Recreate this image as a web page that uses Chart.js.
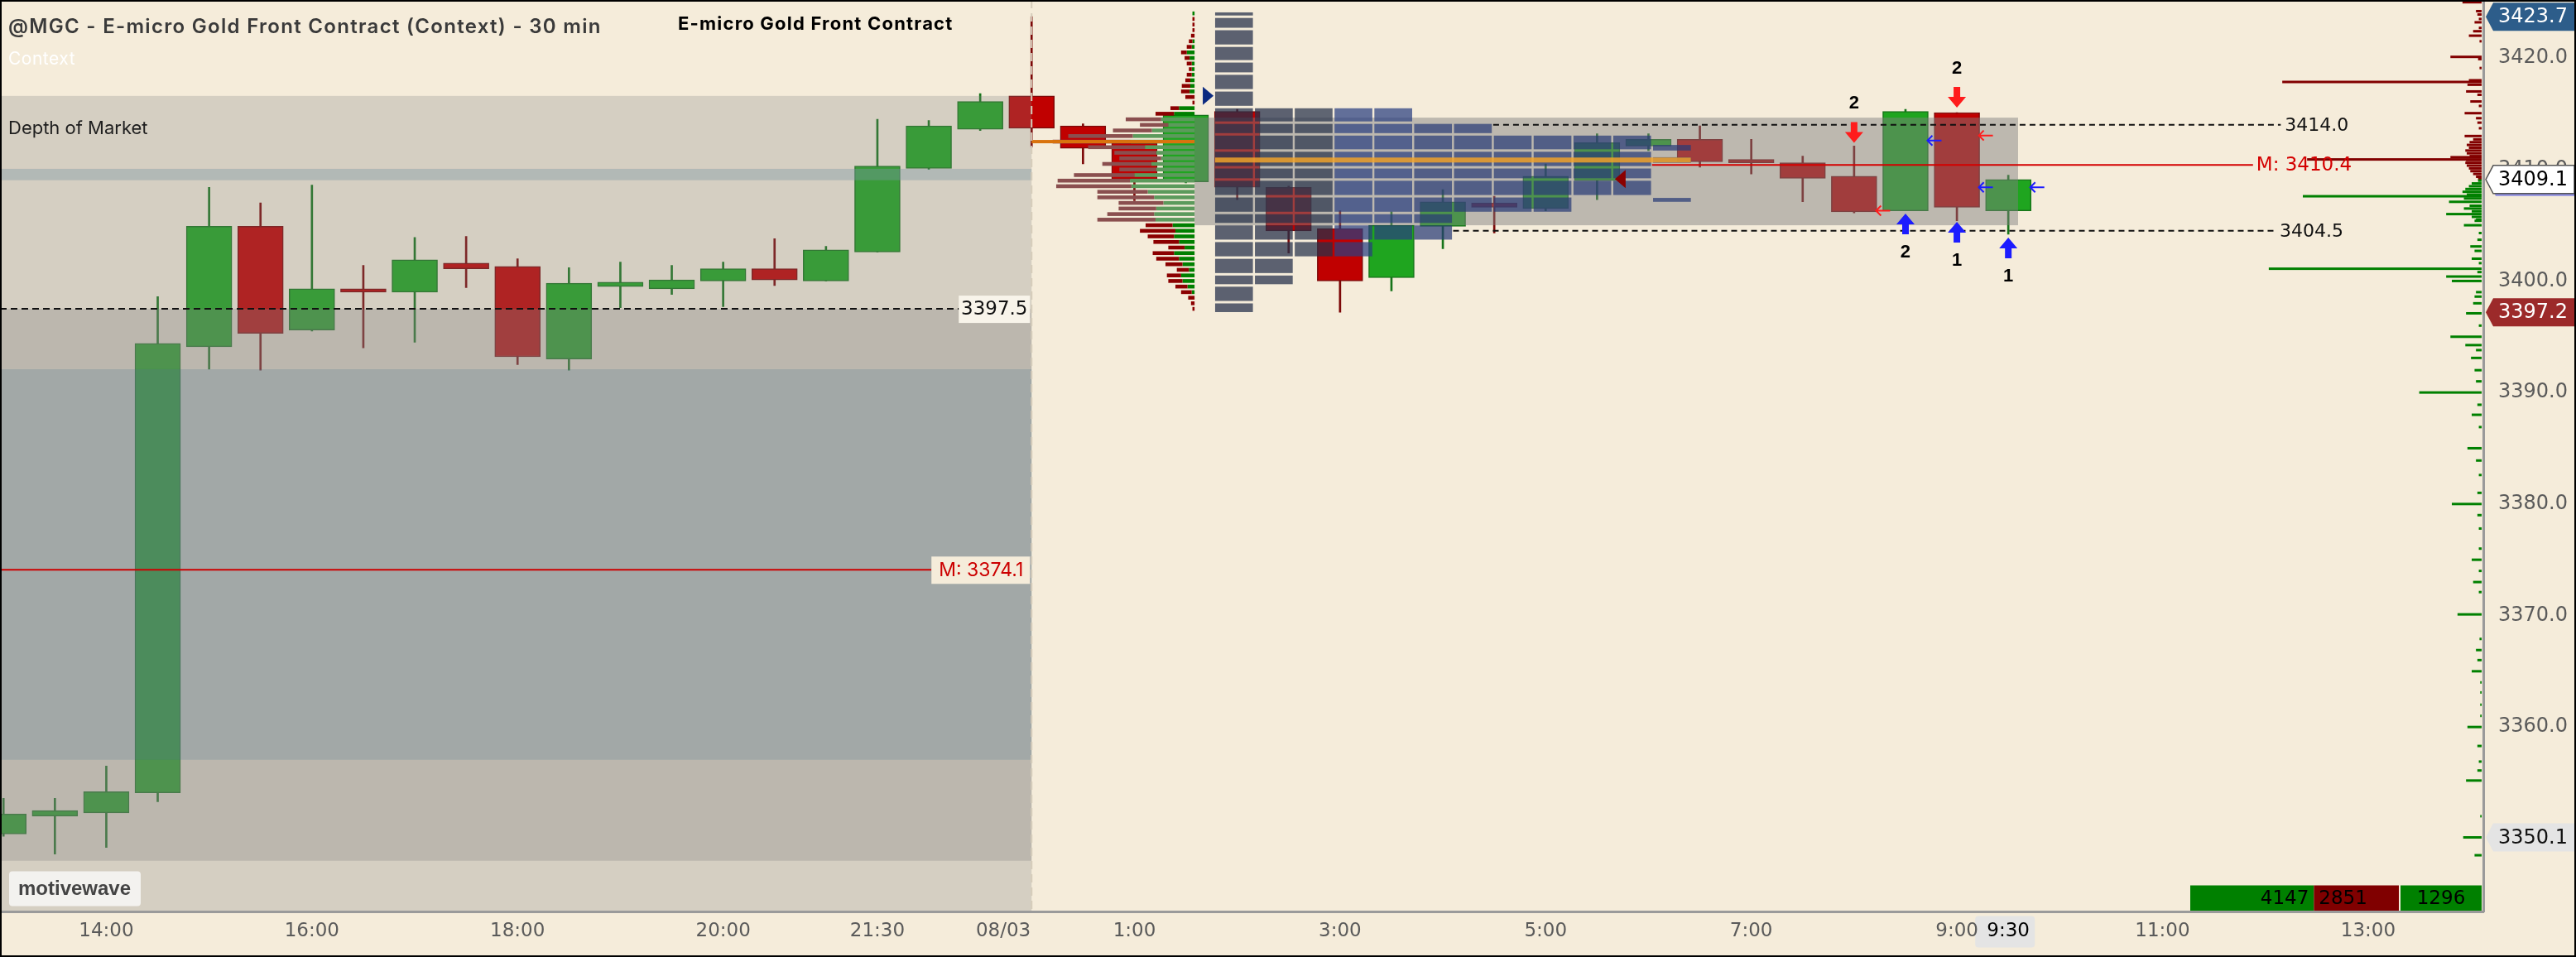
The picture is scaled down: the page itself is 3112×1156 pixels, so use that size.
<!DOCTYPE html>
<html>
<head>
<meta charset="utf-8">
<script src="https://cdn.jsdelivr.net/npm/chart.js@4.4.1/dist/chart.umd.min.js"></script>
<style>
  html, body { margin: 0; padding: 0; background: #f5ecda; }
  canvas { display: block; }
</style>
</head>
<body>
<canvas id="chart" width="3112" height="1156"></canvas>
<script>
// 30 min bars, index 0 = 13:00 (08/02), index 20 = 00:00 (08/03)
const opens  = [3350.4, 3352.0, 3352.3, 3354.1, 3394.1, 3404.9, 3395.6, 3399.3, 3399.0, 3401.6,
                3401.3, 3393.0, 3399.5, 3399.3, 3400.0, 3401.1, 3400.0, 3402.6, 3410.1, 3413.6,
                3416.6, 3413.9, 3412.4, 3408.9, 3415.2, 3408.4, 3404.7, 3400.3, 3404.9, 3407.0,
                3406.5, 3409.0, 3412.1, 3412.7, 3410.9, 3410.6, 3409.4, 3406.3, 3415.1, 3406.3];
const closes = [3352.2, 3352.5, 3354.2, 3394.4, 3404.9, 3395.3, 3399.3, 3399.0, 3401.9, 3401.1,
                3393.2, 3399.8, 3399.9, 3400.1, 3401.1, 3400.1, 3402.8, 3410.3, 3413.9, 3416.1,
                3413.7, 3411.9, 3409.1, 3414.9, 3408.4, 3404.5, 3400.0, 3405.0, 3407.1, 3406.6,
                3409.4, 3412.4, 3412.7, 3410.7, 3410.6, 3409.2, 3406.2, 3415.2, 3406.6, 3409.1];
const highs  = [3353.6, 3353.6, 3356.5, 3398.6, 3408.4, 3407.0, 3408.6, 3401.4, 3403.9, 3404.0,
                3402.0, 3401.2, 3401.7, 3401.4, 3401.7, 3403.8, 3403.1, 3414.5, 3414.4, 3416.8,
                3423.7, 3414.1, 3412.6, 3415.1, 3415.4, 3408.5, 3406.3, 3406.2, 3408.2, 3407.6,
                3410.5, 3413.2, 3413.2, 3413.9, 3412.7, 3411.2, 3412.1, 3415.4, 3415.1, 3409.5];
const lows   = [3350.2, 3348.6, 3349.2, 3353.3, 3392.1, 3392.0, 3395.5, 3394.0, 3394.5, 3399.4,
                3392.5, 3392.0, 3397.6, 3398.8, 3397.7, 3399.6, 3400.0, 3402.6, 3410.0, 3413.5,
                3412.0, 3410.5, 3407.2, 3408.8, 3407.3, 3402.5, 3397.2, 3399.1, 3402.9, 3404.3,
                3406.3, 3407.3, 3411.7, 3410.2, 3409.6, 3407.1, 3406.1, 3406.3, 3405.4, 3404.2];

const sessionStart = 20;
const tickIdx    = [2, 6, 10, 14, 17, 19.45, 22, 26, 30, 34, 38, 39, 42, 46];
const tickLabels = ['14:00', '16:00', '18:00', '20:00', '21:30', '08/03', '1:00', '3:00', '5:00', '7:00', '9:00', '9:30', '11:00', '13:00'];
const priceTicks = [3350, 3360, 3370, 3380, 3390, 3400, 3410, 3420];

// context zones (left of session start)
const zoneHi = [3416.6, 3410.06, 3397.5, 3392.1, 3357.05, 3348.0];
const zoneLo = [3397.5, 3409.04, 3392.1, 3357.05, 3348.0, 3343.42];

// session volume profile (0.5 rows)
const profPrice = [3424.0, 3423.5, 3423.0, 3422.5, 3422.0, 3421.5, 3421.0, 3420.5, 3420.0, 3419.5,
                   3419.0, 3418.5, 3418.0, 3417.5, 3417.0, 3416.5, 3416.0, 3415.5, 3415.0, 3414.5,
                   3414.0, 3413.5, 3413.0, 3412.5, 3412.0, 3411.5, 3411.0, 3410.5, 3410.0, 3409.5,
                   3409.0, 3408.5, 3408.0, 3407.5, 3407.0, 3406.5, 3406.0, 3405.5, 3405.0, 3404.5,
                   3404.0, 3403.5, 3403.0, 3402.5, 3402.0, 3401.5, 3401.0, 3400.5, 3400.0, 3399.5,
                   3399.0, 3398.5, 3398.0, 3397.5];
const profSell  = [0, 3, 3, 3, 5, 5, 7, 8, 7, 7, 4, 7, 7, 12, 12, 13, 3, 12, 26, 50,
                   40, 55, 91, 110, 80, 59, 59, 69, 52, 85, 102, 106, 71, 80, 63, 53, 66, 82, 38, 50,
                   37, 36, 23, 30, 32, 24, 17, 20, 20, 17, 15, 9, 5, 3];
const profBuy   = [3, 0, 0, 0, 0, 3, 4, 11, 7, 4, 4, 4, 6, 6, 7, 0, 0, 22, 29, 47,
                   37, 60, 87, 90, 70, 54, 47, 61, 54, 85, 91, 89, 66, 57, 44, 54, 57, 55, 31, 27,
                   29, 22, 14, 29, 22, 17, 8, 19, 17, 10, 4, 0, 0, 0];
const vaHigh = 3414.5, vaLow = 3405.5, profPoc = 3412.5;
const valueBox = [3414.65, 3405.0];

// depth of market history grid
const domEdges = [3424.2, 3423.7, 3422.6, 3421.1, 3419.7, 3418.6, 3417.1, 3415.6, 3414.2, 3413.15,
                  3411.7, 3410.2, 3409.1, 3407.6, 3406.1, 3405.1, 3403.6, 3402.1, 3400.6, 3399.6,
                  3398.1, 3397.1];
const domFirst = [0, 7, 7, 7, 7, 8, 8, 9, 9, 9, 9];
const domLast  = [21, 19, 17, 17, 16, 16, 14, 14, 14, 13, 13];
const domExtra = [[11, 3412.2, 3411.7], [11, 3411.1, 3410.6], [11, 3407.45, 3407.1]];
const domPoc = 3410.85;

// resting orders at the right edge
const askPrice = [3425.0, 3424.2, 3423.9, 3423.5, 3423.2, 3422.7, 3422.4, 3422.0, 3421.5, 3420.1,
                  3419.9, 3419.1, 3418.0, 3417.85, 3417.6, 3417.0, 3416.7, 3416.1, 3415.7, 3415.05,
                  3414.6, 3414.2, 3413.7, 3413.0, 3412.7, 3412.45, 3412.2, 3411.95, 3411.7, 3411.45,
                  3411.2, 3411.1, 3410.9, 3410.85, 3410.6, 3410.35, 3410.1, 3409.85, 3409.6, 3409.35,
                  3409.15];
const askSize  = [27, 8, 6, 4, 10, 4, 12, 18, 3, 44,
                  5, 3, 18, 281, 20, 22, 6, 16, 4, 24,
                  8, 6, 4, 24, 12, 17, 21, 18, 23, 21,
                  17, 44, 246, 22, 23, 21, 18, 16, 12, 8,
                  5];
const bidPrice = [3409.0, 3408.75, 3408.5, 3408.25, 3408.0, 3407.75, 3407.6, 3407.4, 3407.1, 3406.75,
                  3406.5, 3406.25, 3406.0, 3405.75, 3405.5, 3405.4, 3405.0, 3404.3, 3403.7, 3403.1,
                  3402.7, 3402.0, 3401.6, 3401.1, 3400.8, 3400.4, 3400.0, 3399.0, 3398.6, 3398.0,
                  3397.1, 3396.0, 3395.0, 3394.25, 3393.8, 3393.1, 3392.0, 3391.0, 3390.0, 3388.9,
                  3388.0, 3386.9, 3385.0, 3383.9, 3382.6, 3381.0, 3380.0, 3379.0, 3377.8, 3376.0,
                  3375.0, 3374.0, 3373.0, 3372.1, 3370.1, 3367.9, 3366.9, 3366.0, 3365.0, 3364.0,
                  3363.1, 3362.0, 3361.0, 3360.0, 3358.3, 3356.9, 3356.1, 3355.2, 3352.0, 3350.1,
                  3348.5];
const bidSize  = [5, 14, 18, 23, 27, 21, 252, 25, 46, 17,
                  25, 14, 50, 14, 8, 10, 25, 4, 6, 16,
                  10, 14, 4, 300, 6, 50, 42, 8, 10, 12,
                  22, 4, 44, 23, 8, 15, 10, 8, 88, 6,
                  14, 4, 20, 8, 4, 6, 42, 6, 4, 4,
                  14, 4, 12, 4, 34, 3, 8, 6, 14, 2,
                  2, 2, 2, 20, 6, 4, 6, 22, 2, 26,
                  10];
const bidTotal = 4147, askTotal = 2851;

// levels
const ctxLevel = 3397.5, ctxMid = 3374.1;
const sesLevels = [3414.0, 3404.5];
const sesLevelFrom = [28.98, 28.2];
const sesLevelTo = [44.3, 44.2];
const sesMid = 3410.4, sesMidFrom = 32.07, sesMidTo = 43.76;

// signals
const sigIdx = [36, 38, 37, 38, 39];
const sigTip = [3412.4, 3415.55, 3406.05, 3405.3, 3403.9];
const sigUp = [false, false, true, true, true];
const sigText = ['2', '2', '2', '1', '1'];
const tickArrIdx = [37, 38, 38, 39, 36];
const tickArrPrice = [3412.6, 3413.05, 3408.4, 3408.4, 3406.3];
const tickArrBuy = [true, false, true, true, false];
const triIdx = [23, 31];
const triPrice = [3416.6, 3409.15];

const tagValue = [3423.7, 3409.1, 3397.2, 3350.1];

// styles
const UP = '#1fa51f', DOWN = '#c00000', UP_EDGE = '#17741a', DOWN_EDGE = '#7c0808';
const BODY_W = 55;
const NUM_FONT = '"DejaVu Sans", sans-serif';
const TXT_FONT = 'Inter, "Noto Sans", sans-serif';
const zoneColor = ['rgba(128,128,128,0.27)', 'rgba(122,150,162,0.40)', 'rgba(128,128,128,0.49)',
                   'rgba(107,124,134,0.60)', 'rgba(128,128,128,0.49)', 'rgba(128,128,128,0.27)'];
const domColor = ['rgba(38,48,74,0.74)', 'rgba(38,48,74,0.74)', 'rgba(38,48,74,0.72)',
                  'rgba(42,62,128,0.72)', 'rgba(42,62,128,0.72)', 'rgba(40,58,118,0.72)',
                  'rgba(40,58,118,0.72)', 'rgba(40,58,118,0.72)', 'rgba(40,58,118,0.72)',
                  'rgba(40,58,118,0.72)', 'rgba(40,58,118,0.72)', 'rgba(40,58,118,0.72)'];
const tagFill = ['#2d5d8a', '#ffffff', '#9c2a2a', '#e4e4e4'];
const tagInk = ['#ffffff', '#000000', '#ffffff', '#111111'];

const isUp = opens.map((o, i) => closes[i] >= o);

function dashedLine(ctx, x1, x2, y, color, dash) {
  ctx.save();
  ctx.strokeStyle = color;
  ctx.lineWidth = 2;
  ctx.setLineDash(dash || []);
  ctx.beginPath();
  ctx.moveTo(x1, y);
  ctx.lineTo(x2, y);
  ctx.stroke();
  ctx.restore();
}

function text(ctx, str, x, y, font, color, align, spacing) {
  ctx.save();
  ctx.font = font;
  ctx.fillStyle = color;
  ctx.textAlign = align || 'left';
  ctx.textBaseline = 'middle';
  if (spacing) ctx.letterSpacing = spacing;
  ctx.fillText(str, x, y);
  ctx.restore();
}

const overlay = {
  id: 'overlay',
  afterDatasetsDraw(chart) {
    const {ctx, chartArea: a, scales} = chart;
    const X = v => scales.x.getPixelForValue(v);
    const Y = v => scales.y.getPixelForValue(v);
    const W = v => scales.vol.getPixelForValue(v) - scales.vol.getPixelForValue(0);
    const xDiv = X(sessionStart);
    const colStart = 23.57, colStep = 0.7745, colW = 0.735;

    ctx.save();
    ctx.beginPath();
    ctx.rect(a.left, a.top, a.width, a.height);
    ctx.clip();

    // context zones
    zoneHi.forEach((hi, k) => {
      ctx.fillStyle = zoneColor[k];
      ctx.fillRect(a.left, Y(hi), xDiv - a.left, Y(zoneLo[k]) - Y(hi));
    });

    // session value box
    ctx.fillStyle = 'rgba(128,128,128,0.48)';
    ctx.fillRect(X(23.17), Y(valueBox[0]), X(39.19) - X(23.17), Y(valueBox[1]) - Y(valueBox[0]));

    // DOM history cells
    domFirst.forEach((f, c) => {
      const x0 = X(colStart + c * colStep), x1 = X(colStart + c * colStep + colW);
      ctx.fillStyle = domColor[c];
      for (let r = f; r < domLast[c]; r++) {
        const y0 = Y(domEdges[r]) + 1.5, y1 = Y(domEdges[r + 1]) - 1.5;
        ctx.fillRect(x0, y0, x1 - x0, y1 - y0);
      }
    });
    domExtra.forEach(([c, hi, lo]) => {
      const x0 = X(colStart + c * colStep), x1 = X(colStart + c * colStep + colW);
      ctx.fillStyle = domColor[c];
      ctx.fillRect(x0, Y(hi), x1 - x0, Y(lo) - Y(hi));
    });
    ctx.fillStyle = 'rgba(240,162,42,0.85)';
    ctx.fillRect(X(colStart), Y(domPoc) - 3, X(colStart + 11 * colStep + colW) - X(colStart), 6);

    // session volume profile, anchored on the value box left edge
    const pr = X(23.17);
    profPrice.forEach((p, k) => {
      const inVa = p <= vaHigh && p >= vaLow;
      const yt = Y(p + 0.17), h = Y(p - 0.17) - yt;
      const wb = W(profBuy[k]), ws = W(profSell[k]);
      ctx.fillStyle = inVa ? '#5c9a5c' : '#008000';
      ctx.fillRect(pr - wb, yt, wb, h);
      ctx.fillStyle = inVa ? '#8a4f4f' : '#8b0000';
      ctx.fillRect(pr - wb - ws, yt, ws, h);
    });
    ctx.fillStyle = '#d9730d';
    ctx.fillRect(xDiv, Y(profPoc) - 2, pr - xDiv, 4);

    // resting orders
    const ar = a.right - 2;
    ctx.fillStyle = '#820000';
    askPrice.forEach((p, k) => ctx.fillRect(ar - W(askSize[k]), Y(p) - 1.5, W(askSize[k]), 3));
    ctx.fillStyle = '#008000';
    bidPrice.forEach((p, k) => ctx.fillRect(ar - W(bidSize[k]), Y(p) - 1.5, W(bidSize[k]), 3));

    // triangles
    triIdx.forEach((i, k) => {
      const y = Y(triPrice[k]);
      const edge = X(i) + BODY_W / 2;
      ctx.fillStyle = k === 0 ? '#0b2a80' : '#8b0000';
      ctx.beginPath();
      if (k === 0) {
        ctx.moveTo(edge - 7, y - 11); ctx.lineTo(edge + 6, y); ctx.lineTo(edge - 7, y + 11);
      } else {
        ctx.moveTo(edge + 7, y - 11); ctx.lineTo(edge - 6, y); ctx.lineTo(edge + 7, y + 11);
      }
      ctx.closePath();
      ctx.fill();
    });

    // context levels
    const boxR = xDiv - 2;
    dashedLine(ctx, a.left, boxR - 86, Y(ctxLevel), '#111', [8, 5]);
    ctx.fillStyle = '#f8f4ea';
    ctx.fillRect(boxR - 86, Y(ctxLevel) - 16, 86, 33);
    text(ctx, ctxLevel.toFixed(1), boxR - 43, Y(ctxLevel) + 1, '23px ' + NUM_FONT, '#111', 'center');
    dashedLine(ctx, a.left, boxR - 119, Y(ctxMid), '#cc0000');
    ctx.fillStyle = '#f5ecda';
    ctx.fillRect(boxR - 119, Y(ctxMid) - 16, 119, 33);
    text(ctx, 'M: ' + ctxMid.toFixed(1), boxR - 59, Y(ctxMid) + 1, '23px ' + TXT_FONT, '#cc0000', 'center');

    // session levels
    sesLevels.forEach((p, k) => {
      dashedLine(ctx, X(sesLevelFrom[k]), X(sesLevelTo[k]), Y(p), '#111', [7, 5]);
      text(ctx, p.toFixed(1), X(sesLevelTo[k]) + 5, Y(p) + 1, '22px ' + NUM_FONT, '#111');
    });
    dashedLine(ctx, X(sesMidFrom), X(sesMidTo), Y(sesMid), '#d40000');
    text(ctx, 'M: ' + sesMid.toFixed(1), X(sesMidTo) + 4, Y(sesMid) + 1, '23px ' + NUM_FONT, '#d40000');

    // signal arrows
    sigIdx.forEach((i, k) => {
      const cx = X(i), tip = Y(sigTip[k]), s = sigUp[k] ? 1 : -1;
      ctx.fillStyle = sigUp[k] ? '#1c1cff' : '#ff1c1c';
      ctx.beginPath();
      ctx.moveTo(cx, tip);
      ctx.lineTo(cx + 11, tip + 13 * s);
      ctx.lineTo(cx + 4, tip + 13 * s);
      ctx.lineTo(cx + 4, tip + 25 * s);
      ctx.lineTo(cx - 4, tip + 25 * s);
      ctx.lineTo(cx - 4, tip + 13 * s);
      ctx.lineTo(cx - 11, tip + 13 * s);
      ctx.closePath();
      ctx.fill();
      text(ctx, sigText[k], cx, tip + 47 * s, 'bold 22px "Liberation Sans", sans-serif', '#000', 'center');
    });
    tickArrIdx.forEach((i, k) => {
      const x0 = X(i) + BODY_W / 2 - 1, y = Y(tickArrPrice[k]);
      ctx.strokeStyle = tickArrBuy[k] ? '#1c1cff' : '#ff1c1c';
      ctx.lineWidth = 2;
      ctx.beginPath();
      ctx.moveTo(x0 + 17, y); ctx.lineTo(x0, y);
      ctx.moveTo(x0 + 6, y - 6); ctx.lineTo(x0, y); ctx.lineTo(x0 + 6, y + 6);
      ctx.stroke();
    });

    // session divider
    ctx.save();
    ctx.strokeStyle = '#d6cdbb';
    ctx.lineWidth = 2;
    ctx.setLineDash([10, 6]);
    ctx.beginPath();
    ctx.moveTo(xDiv, a.top);
    ctx.lineTo(xDiv, a.bottom);
    ctx.stroke();
    ctx.restore();

    // totals of resting orders
    const totW = 252, bW = totW * bidTotal / (bidTotal + askTotal);
    const bx = ar - 100 - totW, by = a.bottom - 32;
    ctx.fillStyle = '#008000'; ctx.fillRect(bx, by, bW, 32);
    ctx.fillStyle = '#800000'; ctx.fillRect(bx + bW, by, totW - bW, 32);
    ctx.fillStyle = '#008000'; ctx.fillRect(ar - 98, by, 98, 32);
    text(ctx, String(bidTotal), bx + bW - 6, by + 17, '23px ' + NUM_FONT, '#000', 'right');
    text(ctx, String(askTotal), bx + bW + 6, by + 17, '23px ' + NUM_FONT, '#000', 'left');
    text(ctx, String(bidTotal - askTotal), ar - 49, by + 17, '23px ' + NUM_FONT, '#000', 'center');
    ctx.restore();

    // captions
    text(ctx, '@MGC - E-micro Gold Front Contract (Context) - 30 min', 10, 33, '600 24px ' + TXT_FONT, '#3a3a3a', 'left', '1.3px');
    text(ctx, 'Context', 10, 72, '21px ' + TXT_FONT, '#ffffff', 'left', '0.5px');
    text(ctx, 'E-micro Gold Front Contract', 819, 29, 'bold 22px ' + TXT_FONT, '#000', 'left', '1.2px');
    text(ctx, 'Depth of Market', 10, 155, '22px ' + TXT_FONT, '#1e1e1e');
    ctx.fillStyle = '#f3f2ef';
    ctx.beginPath();
    ctx.roundRect(11, a.bottom - 49, 159, 42, 4);
    ctx.fill();
    text(ctx, 'motivewave', 90, a.bottom - 27, 'bold 24px "Liberation Sans", sans-serif', '#444', 'center');

    // current bar time highlight
    const tx = X(39) - 4;
    ctx.fillStyle = '#e4e4e4';
    ctx.beginPath();
    ctx.roundRect(tx - 36, a.bottom + 5, 72, 38, 4);
    ctx.fill();
  },
  afterDraw(chart) {
    const {ctx, chartArea: a, scales} = chart;
    const Y = v => scales.y.getPixelForValue(v);
    tagValue.forEach((v, k) => {
      const y = Y(v), x0 = a.right + 3, x1 = a.right + 12, x2 = chart.width - 2;
      const path = () => {
        ctx.beginPath();
        ctx.moveTo(x0, y);
        ctx.lineTo(x1, y - 17);
        ctx.lineTo(x2, y - 17);
        ctx.lineTo(x2, y + 17);
        ctx.lineTo(x1, y + 17);
        ctx.closePath();
      };
      if (k === 1) {
        ctx.save();
        ctx.translate(3, 3);
        path();
        ctx.fillStyle = '#8c8ce0';
        ctx.fill();
        ctx.restore();
      }
      path();
      ctx.fillStyle = tagFill[k];
      ctx.fill();
      if (k === 1) { ctx.strokeStyle = '#555'; ctx.lineWidth = 1.5; ctx.stroke(); }
      text(ctx, v.toFixed(1), a.right + 18, y + 1, '24px ' + NUM_FONT, tagInk[k]);
    });
    ctx.strokeStyle = '#000';
    ctx.lineWidth = 2;
    ctx.strokeRect(1, 1, chart.width - 2, chart.height - 2);
  }
};

new Chart(document.getElementById('chart'), {
  type: 'bar',
  data: {
    datasets: [
      {
        label: 'range',
        data: lows.map((l, i) => ({x: i, y: [l, highs[i]]})),
        backgroundColor: isUp.map(u => u ? UP_EDGE : DOWN_EDGE),
        barThickness: 2,
        grouped: false,
        order: 2,
        xAxisID: 'x',
        yAxisID: 'y'
      },
      {
        label: 'body',
        data: opens.map((o, i) => ({x: i, y: [o, closes[i]]})),
        backgroundColor: isUp.map(u => u ? UP : DOWN),
        borderColor: isUp.map(u => u ? UP_EDGE : DOWN_EDGE),
        borderWidth: 1.5,
        borderSkipped: false,
        barThickness: BODY_W,
        grouped: false,
        order: 1,
        xAxisID: 'x',
        yAxisID: 'y'
      }
    ]
  },
  options: {
    responsive: false,
    animation: false,
    devicePixelRatio: 1,
    layout: {padding: 0},
    plugins: {legend: {display: false}, tooltip: {enabled: false}},
    scales: {
      x: {
        type: 'linear',
        min: -0.068,
        max: 48.24,
        offset: false,
        grid: {display: false, drawTicks: false},
        border: {display: true, color: '#9a9a9a', width: 3, z: 1},
        afterBuildTicks: s => { s.ticks = tickIdx.map(v => ({value: v})); },
        afterFit: s => { s.height = 54.5; s.paddingLeft = 0; s.paddingRight = 0; },
        ticks: {
          z: 1,
          autoSkip: false,
          maxRotation: 0,
          minRotation: 0,
          padding: 10,
          font: {family: NUM_FONT, size: 23},
          color: c => (c.tick && c.tick.label === '9:30') ? '#000' : '#5a5a5a',
          callback: (v, i) => tickLabels[i]
        }
      },
      y: {
        type: 'linear',
        position: 'right',
        min: 3343.42,
        max: 3425.2,
        grid: {display: false, drawTicks: false},
        border: {display: true, color: '#9a9a9a', width: 3, z: 1},
        afterBuildTicks: s => { s.ticks = priceTicks.map(v => ({value: v})); },
        afterFit: s => { s.width = 112; s.paddingTop = 0; s.paddingBottom = 0; },
        ticks: {
          z: 1,
          padding: 18,
          font: {family: NUM_FONT, size: 24},
          color: '#5a5a5a',
          callback: v => v.toFixed(1)
        }
      },
      vol: {type: 'linear', axis: 'x', display: false, min: 0, max: 3000}
    }
  },
  plugins: [overlay]
});
</script>
</body>
</html>
